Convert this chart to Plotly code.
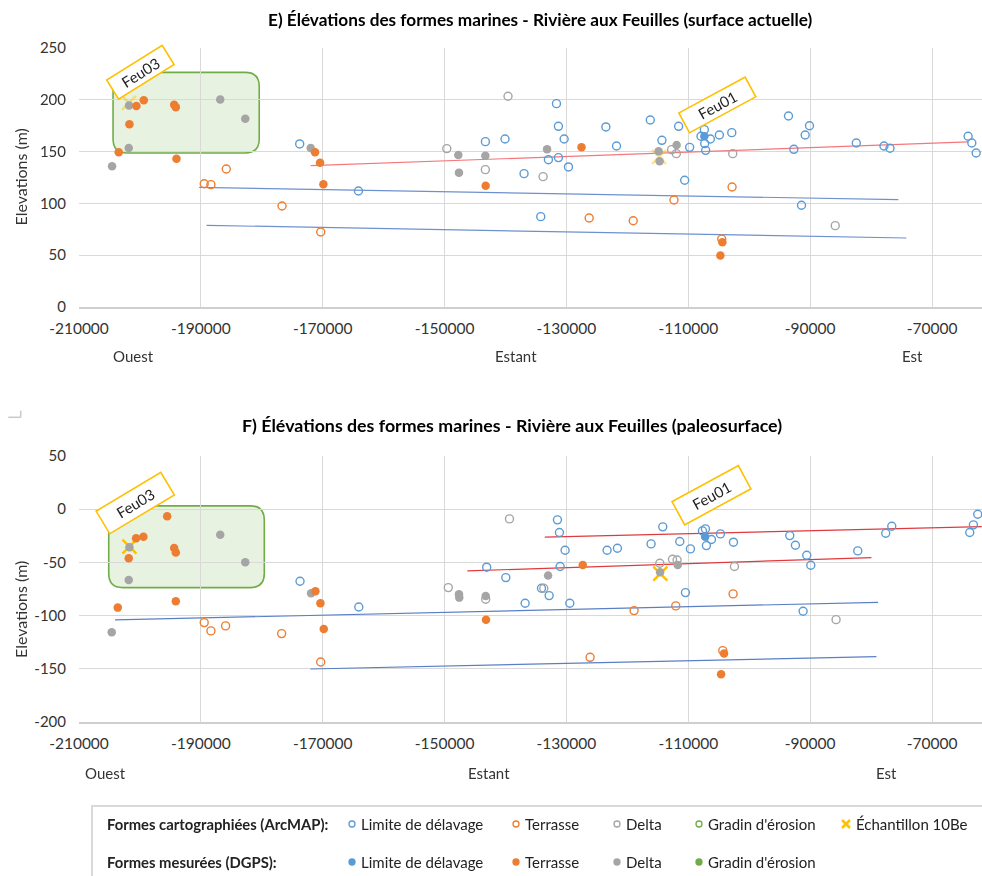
import plotly.graph_objects as go

W, H = 982, 876
FONT = "Lato, Liberation Sans, sans-serif"

BLUE = "#5B9BD5"
ORANGE = "#ED7D31"
GRAY = "#A5A5A5"
GREEN = "#70AD47"
YELLOW = "#FFC000"

# ---------------- E) surface actuelle ----------------
e_limite_arc_x = [-173780, -164135, -143300, -140080, -131640, -131315, -130380, -131315, -132960, -129670,
                  -136960, -134220, -123530, -121780, -116245, -114330, -111590, -109780, -110600, -107370,
                  -107920, -107310, -107150, -106380, -104900, -102870, -93560, -90820, -90110, -92680,
                  -91420, -82430, -77890, -76900, -64080, -63470, -62760]
e_limite_arc_y = [157.4, 112.0, 159.6, 162.2, 196.3, 174.4, 162.2, 144.2, 142.2, 135.2,
                  128.7, 87.2, 173.8, 155.4, 180.5, 160.9, 174.4, 154.1, 122.3, 171.2,
                  164.8, 157.7, 151.2, 162.2, 166.0, 168.3, 184.4, 166.0, 175.0, 152.2,
                  98.2, 158.3, 155.4, 153.2, 164.8, 158.3, 148.7]
e_terrasse_arc_x = [-189450, -188350, -185830, -176680, -170330, -126270, -119040, -112355, -102820, -104520]
e_terrasse_arc_y = [119.0, 118.1, 133.2, 97.5, 72.4, 85.9, 83.3, 103.3, 115.8, 65.6]
e_delta_arc_x = [-149640, -143310, -139590, -133836, -112740, -111970, -102710, -85886]
e_delta_arc_y = [152.9, 132.6, 203.4, 125.8, 151.9, 148.0, 148.0, 78.5]
e_limite_dgps_x = [-107370]
e_limite_dgps_y = [164.8]
e_terrasse_dgps_x = [-203480, -201725, -200575, -199370, -194380, -194110, -194000, -171260, -170440, -169890,
                     -143260, -127530, -104410, -104740]
e_terrasse_dgps_y = [149.3, 176.3, 194.0, 199.5, 195.3, 192.8, 143.2, 149.3, 139.3, 118.4,
                     117.1, 154.1, 62.4, 49.6]
e_delta_dgps_x = [-204575, -201780, -201835, -186820, -182710, -171970, -147750, -147640, -143310, -133180,
                  -111920, -114875, -114710]
e_delta_dgps_y = [135.8, 194.4, 153.5, 200.2, 181.8, 153.5, 146.7, 129.7, 146.1, 152.2,
                  156.4, 150.3, 140.6]
e_be10_x = [-201800, -114800]
e_be10_y = [197, 145]
e_trend_red_x = [-171970, -64080]
e_trend_red_y = [136.4, 159.3]
e_trend_blue1_x = [-190275, -75530]
e_trend_blue1_y = [115.5, 103.6]
e_trend_blue2_x = [-189070, -74210]
e_trend_blue2_y = [78.8, 66.6]

# ---------------- F) paleosurface ----------------
f_limite_arc_x = [-173725, -164080, -143090, -139955, -136780, -134100, -132840, -131480, -131150, -130220,
                  -131040, -129450, -123330, -121630, -116110, -114190, -111400, -109650, -110470, -107680,
                  -107190, -107030, -106200, -104730, -102590, -93350, -92420, -90560, -89900, -91160,
                  -82190, -77600, -76610, -63810, -63210, -62500]
f_limite_arc_y = [-67.7, -91.9, -54.5, -64.3, -88.4, -74.3, -81.2, -10.0, -21.9, -38.6,
                  -53.9, -88.4, -38.6, -36.7, -32.6, -16.6, -30.4, -37.3, -78.4, -20.4,
                  -18.5, -34.2, -28.5, -23.2, -31.0, -24.8, -33.9, -43.3, -52.7, -95.9,
                  -39.2, -22.6, -16.0, -21.9, -14.7, -4.7]
f_terrasse_arc_x = [-189450, -188350, -185940, -176740, -170330, -126120, -118900, -112060, -102650, -104350]
f_terrasse_arc_y = [-106.6, -114.4, -109.7, -116.9, -143.6, -139.2, -95.3, -90.9, -79.6, -132.9]
f_delta_arc_x = [-149390, -143255, -139350, -133720, -114680, -112600, -111840, -102430, -85750]
f_delta_arc_y = [-73.7, -84.6, -9.1, -74.3, -50.8, -47.0, -47.7, -53.9, -103.8]
f_limite_dgps_x = [-107240]
f_limite_dgps_y = [-26.0]
f_terrasse_dgps_x = [-203640, -201835, -200630, -199425, -195530, -194380, -194110, -194110, -171200, -170380,
                     -169830, -143200, -127320, -104130, -104620]
f_terrasse_dgps_y = [-92.5, -46.1, -27.3, -26.0, -6.6, -36.4, -40.8, -86.5, -77.1, -88.4,
                     -112.5, -103.8, -52.4, -135.7, -155.2]
f_delta_dgps_x = [-204630, -201725, -201835, -186820, -182710, -171910, -147640, -147590, -143255, -133010,
                  -114630, -111730]
f_delta_dgps_y = [-115.7, -35.7, -66.5, -24.1, -49.8, -79.0, -79.9, -83.1, -81.5, -62.4,
                  -59.3, -52.4]
f_be10_x = [-201725, -114600]
f_be10_y = [-35.1, -60.5]
f_trend_red1_x = [-133560, -61840]
f_trend_red1_y = [-26.3, -16.3]
f_trend_red2_x = [-146270, -79950]
f_trend_red2_y = [-58.0, -45.5]
f_trend_blue1_x = [-204080, -78855]
f_trend_blue1_y = [-104.1, -87.5]
f_trend_blue2_x = [-172030, -79130]
f_trend_blue2_y = [-150.2, -138.6]

X_TICKS = [-210000, -190000, -170000, -150000, -130000, -110000, -90000, -70000]
X_TICK_LABELS = ["-210000", "-190000", "-170000", "-150000", "-130000", "-110000", "-90000", "-70000"]
X_RANGE = [-210000, -61800]
E_Y_TICKS = [0, 50, 100, 150, 200, 250]
E_Y_LABELS = ["0", "50", "100", "150", "200", "250"]
F_Y_TICKS = [-200, -150, -100, -50, 0, 50]
F_Y_LABELS = ["-200", "-150", "-100", "-50", "0", "50"]
E_Y_RANGE = [0, 250]
F_Y_RANGE = [-200, 50]

TITLE_E = "E) Élévations des formes marines - Rivière aux Feuilles (surface actuelle)"
TITLE_F = "F) Élévations des formes marines - Rivière aux Feuilles (paleosurface)"
Y_TITLE = "Elevations (m)"
DIRECTIONS = ["Ouest", "Estant", "Est"]

fig = go.Figure()


def px(x):
    return x / W


def py(y):
    return 1 - y / H


def add_panel(xa, ya, trends, limite_arc, terrasse_arc, delta_arc, limite_dgps, terrasse_dgps, delta_dgps,
              be10, be10_opacity):
    for (tx, ty, col) in trends:
        fig.add_trace(go.Scatter(x=tx, y=ty, mode="lines", line=dict(color=col, width=1.2),
                                 xaxis=xa, yaxis=ya, showlegend=False, hoverinfo="skip"))
    fig.add_trace(go.Scatter(x=be10[0], y=be10[1], mode="markers", xaxis=xa, yaxis=ya, showlegend=False,
                             opacity=be10_opacity,
                             marker=dict(symbol="x-thin", size=14, line=dict(color=YELLOW, width=2.5))))
    for (d, col) in [(limite_arc, BLUE), (terrasse_arc, ORANGE), (delta_arc, GRAY)]:
        fig.add_trace(go.Scatter(x=d[0], y=d[1], mode="markers", xaxis=xa, yaxis=ya, showlegend=False,
                                 marker=dict(symbol="circle-open", size=8, color=col, line=dict(width=1.4))))
    for (d, col) in [(delta_dgps, GRAY), (terrasse_dgps, ORANGE), (limite_dgps, BLUE)]:
        fig.add_trace(go.Scatter(x=d[0], y=d[1], mode="markers", xaxis=xa, yaxis=ya, showlegend=False,
                                 marker=dict(symbol="circle", size=8.5, color=col)))


add_panel("x", "y",
          [(e_trend_red_x, e_trend_red_y, "#F4777C"),
           (e_trend_blue1_x, e_trend_blue1_y, "#6E90CF"),
           (e_trend_blue2_x, e_trend_blue2_y, "#6E90CF")],
          (e_limite_arc_x, e_limite_arc_y), (e_terrasse_arc_x, e_terrasse_arc_y), (e_delta_arc_x, e_delta_arc_y),
          (e_limite_dgps_x, e_limite_dgps_y), (e_terrasse_dgps_x, e_terrasse_dgps_y),
          (e_delta_dgps_x, e_delta_dgps_y), (e_be10_x, e_be10_y), 0.45)

add_panel("x2", "y2",
          [(f_trend_red1_x, f_trend_red1_y, "#E0393E"),
           (f_trend_red2_x, f_trend_red2_y, "#E0393E"),
           (f_trend_blue1_x, f_trend_blue1_y, "#5A7FC4"),
           (f_trend_blue2_x, f_trend_blue2_y, "#5A7FC4")],
          (f_limite_arc_x, f_limite_arc_y), (f_terrasse_arc_x, f_terrasse_arc_y), (f_delta_arc_x, f_delta_arc_y),
          (f_limite_dgps_x, f_limite_dgps_y), (f_terrasse_dgps_x, f_terrasse_dgps_y),
          (f_delta_dgps_x, f_delta_dgps_y), (f_be10_x, f_be10_y), 1.0)

GRID = "#D9D9D9"
xcommon = dict(range=X_RANGE, tickvals=X_TICKS, ticktext=X_TICK_LABELS, showgrid=True, gridcolor=GRID,
               gridwidth=1, zeroline=False, showline=True, linecolor="#CFCFCF", linewidth=1.5, ticks="",
               tickfont=dict(family=FONT, size=15.5, color="#333333"), ticklabelstandoff=7, automargin=False)
ycommon = dict(showgrid=True, gridcolor=GRID, gridwidth=1, zeroline=False, showline=False,
               ticks="", tickfont=dict(family=FONT, size=15, color="#333333"), ticklabelstandoff=12,
               automargin=False)

fig.update_layout(
    template="none",
    width=W, height=H, margin=dict(l=0, r=0, t=0, b=0, pad=0), autosize=False,
    paper_bgcolor="white", plot_bgcolor="white", showlegend=False,
    xaxis=dict(domain=[px(79), 1.0], anchor="y", **xcommon),
    yaxis=dict(domain=[py(307), py(48)], anchor="x", range=E_Y_RANGE, tickvals=E_Y_TICKS,
               ticktext=E_Y_LABELS, **ycommon),
    xaxis2=dict(domain=[px(79), 1.0], anchor="y2", **xcommon),
    yaxis2=dict(domain=[py(722), py(456)], anchor="x2", range=F_Y_RANGE, tickvals=F_Y_TICKS,
                ticktext=F_Y_LABELS, **ycommon),
    font=dict(family=FONT, color="#333333"),
)


def rounded_rect(x0, x1, y0, y1, rx, ry):
    return (f"M {x0 + rx},{y1} L {x1 - rx},{y1} Q {x1},{y1} {x1},{y1 - ry} "
            f"L {x1},{y0 + ry} Q {x1},{y0} {x1 - rx},{y0} L {x0 + rx},{y0} "
            f"Q {x0},{y0} {x0},{y0 + ry} L {x0},{y1 - ry} Q {x0},{y1} {x0 + rx},{y1} Z")


shapes = []
shapes.append(dict(type="path", xref="x", yref="y", layer="below",
                   path=rounded_rect(-204410, -180420, 148.7, 226.5, 2300, 13.5),
                   fillcolor="rgba(112,173,71,0.16)", line=dict(color=GREEN, width=1.6)))
shapes.append(dict(type="path", xref="x2", yref="y2", layer="below",
                   path=rounded_rect(-205120, -179590, -73.7, 3.1, 2300, 13.2),
                   fillcolor="rgba(112,173,71,0.16)", line=dict(color=GREEN, width=1.6)))

# small corner mark
shapes.append(dict(type="line", xref="paper", yref="paper", x0=px(20.7), x1=px(20.7), y0=py(410.7), y1=py(417.3),
                   line=dict(color="#C8C8C8", width=1.5)))
shapes.append(dict(type="line", xref="paper", yref="paper", x0=px(8.3), x1=px(20.7), y0=py(417.3), y1=py(417.3),
                   line=dict(color="#C8C8C8", width=1.5)))

# legend frame
shapes.append(dict(type="rect", xref="paper", yref="paper", x0=px(92), x1=px(984), y0=py(878), y1=py(806),
                   line=dict(color="#D9D9D9", width=2), fillcolor="rgba(0,0,0,0)"))

annotations = []
annotations.append(dict(text=f"<b>{TITLE_E}</b>", x=px(540), y=py(20), xref="paper", yref="paper",
                        showarrow=False, xanchor="center", yanchor="middle",
                        font=dict(family=FONT, size=17.2, color="#000000")))
annotations.append(dict(text=f"<b>{TITLE_F}</b>", x=px(512), y=py(425), xref="paper", yref="paper",
                        showarrow=False, xanchor="center", yanchor="middle",
                        font=dict(family=FONT, size=17.8, color="#000000")))
for ycen in (177.5, 610):
    annotations.append(dict(text=Y_TITLE, x=px(20), y=py(ycen), xref="paper", yref="paper", showarrow=False,
                            textangle=-90, xanchor="center", yanchor="middle",
                            font=dict(family=FONT, size=16, color="#333333")))
for (xs, yline) in (([133, 516, 912], 356), ([105, 489, 886], 773)):
    for t, xx in zip(DIRECTIONS, xs):
        annotations.append(dict(text=t, x=px(xx), y=py(yline), xref="paper", yref="paper", showarrow=False,
                                xanchor="center", yanchor="middle",
                                font=dict(family=FONT, size=15, color="#333333")))

# Feu labels
for (lab, xr, yr, xx, yy, ang, w, h) in [("Feu03", "x", "y", -199840, 226.5, -32, 62, 19),
                                        ("Feu01", "x", "y", -105260, 194.7, -28.5, 72, 19),
                                        ("Feu03", "x2", "y2", -200740, 5.4, -31, 72, 23),
                                        ("Feu01", "x2", "y2", -106120, 13.2, -28.5, 72, 23)]:
    annotations.append(dict(text=lab, x=xx, y=yy, xref=xr, yref=yr, showarrow=False, textangle=ang,
                            xanchor="center", yanchor="middle", width=w, height=h,
                            bgcolor="white", bordercolor=YELLOW, borderwidth=1.6, borderpad=1,
                            font=dict(family=FONT, size=15, color="#222222")))

# custom legend
ROW1, ROW2 = 824, 862
annotations.append(dict(text="<b>Formes cartographiées (ArcMAP):</b>", x=px(105), y=py(ROW1), xref="paper",
                        yref="paper", showarrow=False, xanchor="left", yanchor="middle",
                        font=dict(family=FONT, size=14.8, color="#222222")))
annotations.append(dict(text="<b>Formes mesurées (DGPS):</b>", x=px(105), y=py(ROW2), xref="paper",
                        yref="paper", showarrow=False, xanchor="left", yanchor="middle",
                        font=dict(family=FONT, size=14.8, color="#222222")))
legend_items = [(352, BLUE, "Limite de délavage"), (516, ORANGE, "Terrasse"), (617, GRAY, "Delta"),
                (699, GREEN, "Gradin d'érosion")]
for (mx, col, txt) in legend_items:
    for (row, filled) in ((ROW1, False), (ROW2, True)):
        r = 3.0
        shapes.append(dict(type="circle", xref="paper", yref="paper", x0=px(mx - r), x1=px(mx + r),
                           y0=py(row + r), y1=py(row - r),
                           fillcolor=col if filled else "white", line=dict(color=col, width=1.3)))
        annotations.append(dict(text=txt, x=px(mx + 7), y=py(row), xref="paper", yref="paper", showarrow=False,
                                xanchor="left", yanchor="middle",
                                font=dict(family=FONT, size=15, color="#222222")))
# 10Be legend icon
cx, cy, s = 846, ROW1, 4
shapes.append(dict(type="path", xref="paper", yref="paper",
                   path=(f"M {px(cx - s)},{py(cy - s)} L {px(cx + s)},{py(cy + s)} "
                         f"M {px(cx + s)},{py(cy - s)} L {px(cx - s)},{py(cy + s)}"),
                   line=dict(color=YELLOW, width=2.5)))
annotations.append(dict(text="Échantillon 10Be", x=px(cx + 8), y=py(cy), xref="paper", yref="paper",
                        showarrow=False, xanchor="left", yanchor="middle",
                        font=dict(family=FONT, size=15, color="#222222")))

fig.update_layout(shapes=shapes, annotations=annotations)
fig.write_html("out.html", config={"displayModeBar": False},
               post_script="document.body.style.margin='0';document.body.style.overflow='hidden';")
